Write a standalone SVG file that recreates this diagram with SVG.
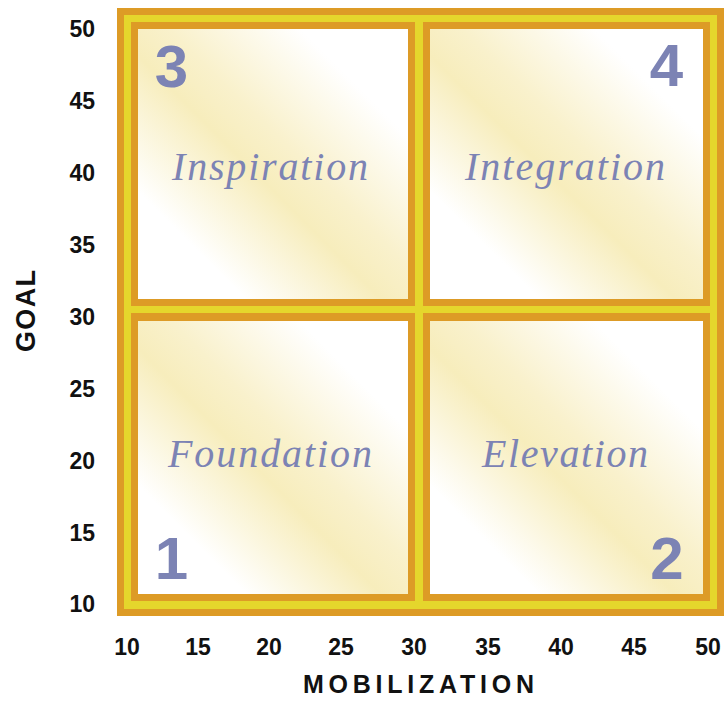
<svg xmlns="http://www.w3.org/2000/svg" width="724" height="702" viewBox="0 0 724 702">
  <style>
    .frameO { fill: #dd9b26; }
    .frameY { fill: #e5d62c; }
    .cellBg { fill: url(#band); }
    .num { font-family: "Liberation Sans", Arial, sans-serif; font-weight: bold; font-size: 60px; fill: #7c83b4; text-anchor: middle; }
    .lbl { font-family: "Liberation Serif", "Times New Roman", serif; font-style: italic; font-size: 40px; fill: #7c83b4; }
    .tick { font-family: "Liberation Sans", Arial, sans-serif; font-weight: bold; font-size: 23px; fill: #111111; }
    .axis { font-family: "Liberation Sans", Arial, sans-serif; font-weight: bold; fill: #111111; }
  </style>
  <defs>
    <linearGradient id="band" x1="0" y1="1" x2="1" y2="0">
      <stop offset="0" stop-color="#ffffff"/>
      <stop offset="0.2" stop-color="#ffffff"/>
      <stop offset="0.45" stop-color="#f7edbc"/>
      <stop offset="0.56" stop-color="#f9f1cc"/>
      <stop offset="0.8" stop-color="#ffffff"/>
      <stop offset="1" stop-color="#ffffff"/>
    </linearGradient>
  </defs>
  <rect width="724" height="702" fill="#ffffff"/>

  <g id="frame">
    <rect class="frameO" x="117" y="8" width="610" height="608"/>
    <rect class="frameY" x="124" y="15" width="593" height="594"/>
  </g>

  <g id="cell-3">
    <rect class="frameO" x="131" y="22" width="284" height="284"/>
    <rect class="cellBg" x="138" y="29" width="270" height="270"/>
    <text class="num" x="171.5" y="87">3</text>
    <text class="lbl" x="172" y="180" textLength="196" lengthAdjust="spacing">Inspiration</text>
  </g>

  <g id="cell-4">
    <rect class="frameO" x="423" y="22" width="287" height="284"/>
    <rect class="cellBg" x="430" y="29" width="273" height="270"/>
    <text class="num" x="666.5" y="86">4</text>
    <text class="lbl" x="465" y="180" textLength="200" lengthAdjust="spacing">Integration</text>
  </g>

  <g id="cell-1">
    <rect class="frameO" x="131" y="313" width="284" height="288"/>
    <rect class="cellBg" x="138" y="321" width="270" height="273"/>
    <text class="num" x="171.5" y="579">1</text>
    <text class="lbl" x="168" y="467" textLength="204" lengthAdjust="spacing">Foundation</text>
  </g>

  <g id="cell-2">
    <rect class="frameO" x="423" y="313" width="287" height="288"/>
    <rect class="cellBg" x="430" y="321" width="273" height="273"/>
    <text class="num" x="667" y="579">2</text>
    <text class="lbl" x="482" y="467" textLength="166" lengthAdjust="spacing">Elevation</text>
  </g>

  <g id="connectors"></g>

  <g id="y-axis" class="tick" text-anchor="end">
    <text x="95" y="37">50</text>
    <text x="95" y="109">45</text>
    <text x="95" y="181">40</text>
    <text x="95" y="253">35</text>
    <text x="95" y="325">30</text>
    <text x="95" y="397">25</text>
    <text x="95" y="469">20</text>
    <text x="95" y="541">15</text>
    <text x="95" y="612">10</text>
  </g>

  <g id="x-axis" class="tick" text-anchor="middle">
    <text x="127" y="655">10</text>
    <text x="198" y="655">15</text>
    <text x="269" y="655">20</text>
    <text x="341" y="655">25</text>
    <text x="414" y="655">30</text>
    <text x="488" y="655">35</text>
    <text x="561" y="655">40</text>
    <text x="634" y="655">45</text>
    <text x="708" y="655">50</text>
  </g>

  <g id="axis-titles">
    <text class="axis" x="303" y="693" font-size="25" textLength="231" lengthAdjust="spacing">MOBILIZATION</text>
    <text class="axis" font-size="27" transform="translate(35,352) rotate(-90)" textLength="82" lengthAdjust="spacing">GOAL</text>
  </g>
</svg>
